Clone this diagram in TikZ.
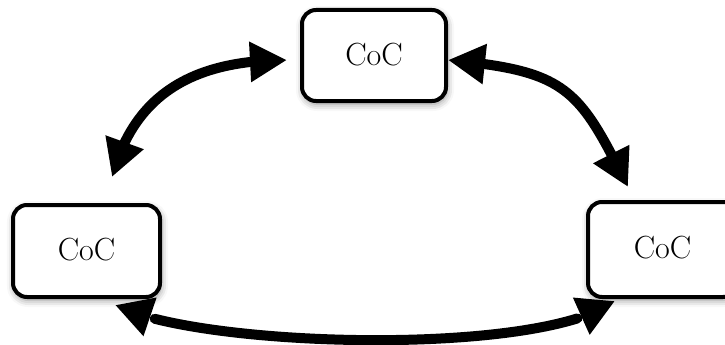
\documentclass[tikz,border=0pt]{standalone}
\usetikzlibrary{arrows.meta,bending,shadows.blur}
\tikzset{
  cocbox/.style={draw=black, line width=4pt, rounded corners=14pt, fill=white,
    font=\fontsize{32}{34}\selectfont, inner sep=0pt,
    blur shadow={shadow xshift=1pt, shadow yshift=-3pt, shadow blur radius=7pt, shadow opacity=45}},
  bigarrow/.style={line width=10pt, line cap=round, {Triangle[length=37pt,width=38pt,flex]}-{Triangle[length=37pt,width=38pt,flex]}}
}
\begin{document}
\begin{tikzpicture}[x=1pt,y=-1pt]
\useasboundingbox (0,0) rectangle (725,345);
% arrow end points
\coordinate (a1) at (112,177);
\coordinate (b1) at (287,60);
\coordinate (a2) at (448,60);
\coordinate (b2) at (628,187);
\coordinate (a3) at (115,305);
\coordinate (b3) at (615,301);
% arrows
\draw[bigarrow] (a1) .. controls (134,95) and (192,60) .. (b1);
\draw[bigarrow] (a2) .. controls (568,71) and (579,89) .. (b2);
\draw[bigarrow] (a3) .. controls (199,348) and (540,357) .. (b3);
% boxes
\node[cocbox, minimum width=144pt, minimum height=91pt] (top) at (374,55.5) {\raisebox{2pt}{CoC}};
\node[cocbox, minimum width=147pt, minimum height=92pt] (left) at (86.5,251) {\raisebox{4pt}{CoC}};
\node[cocbox, minimum width=149pt, minimum height=95pt] (right) at (662.5,249.5) {\raisebox{4pt}{CoC}};
\end{tikzpicture}
\end{document}
